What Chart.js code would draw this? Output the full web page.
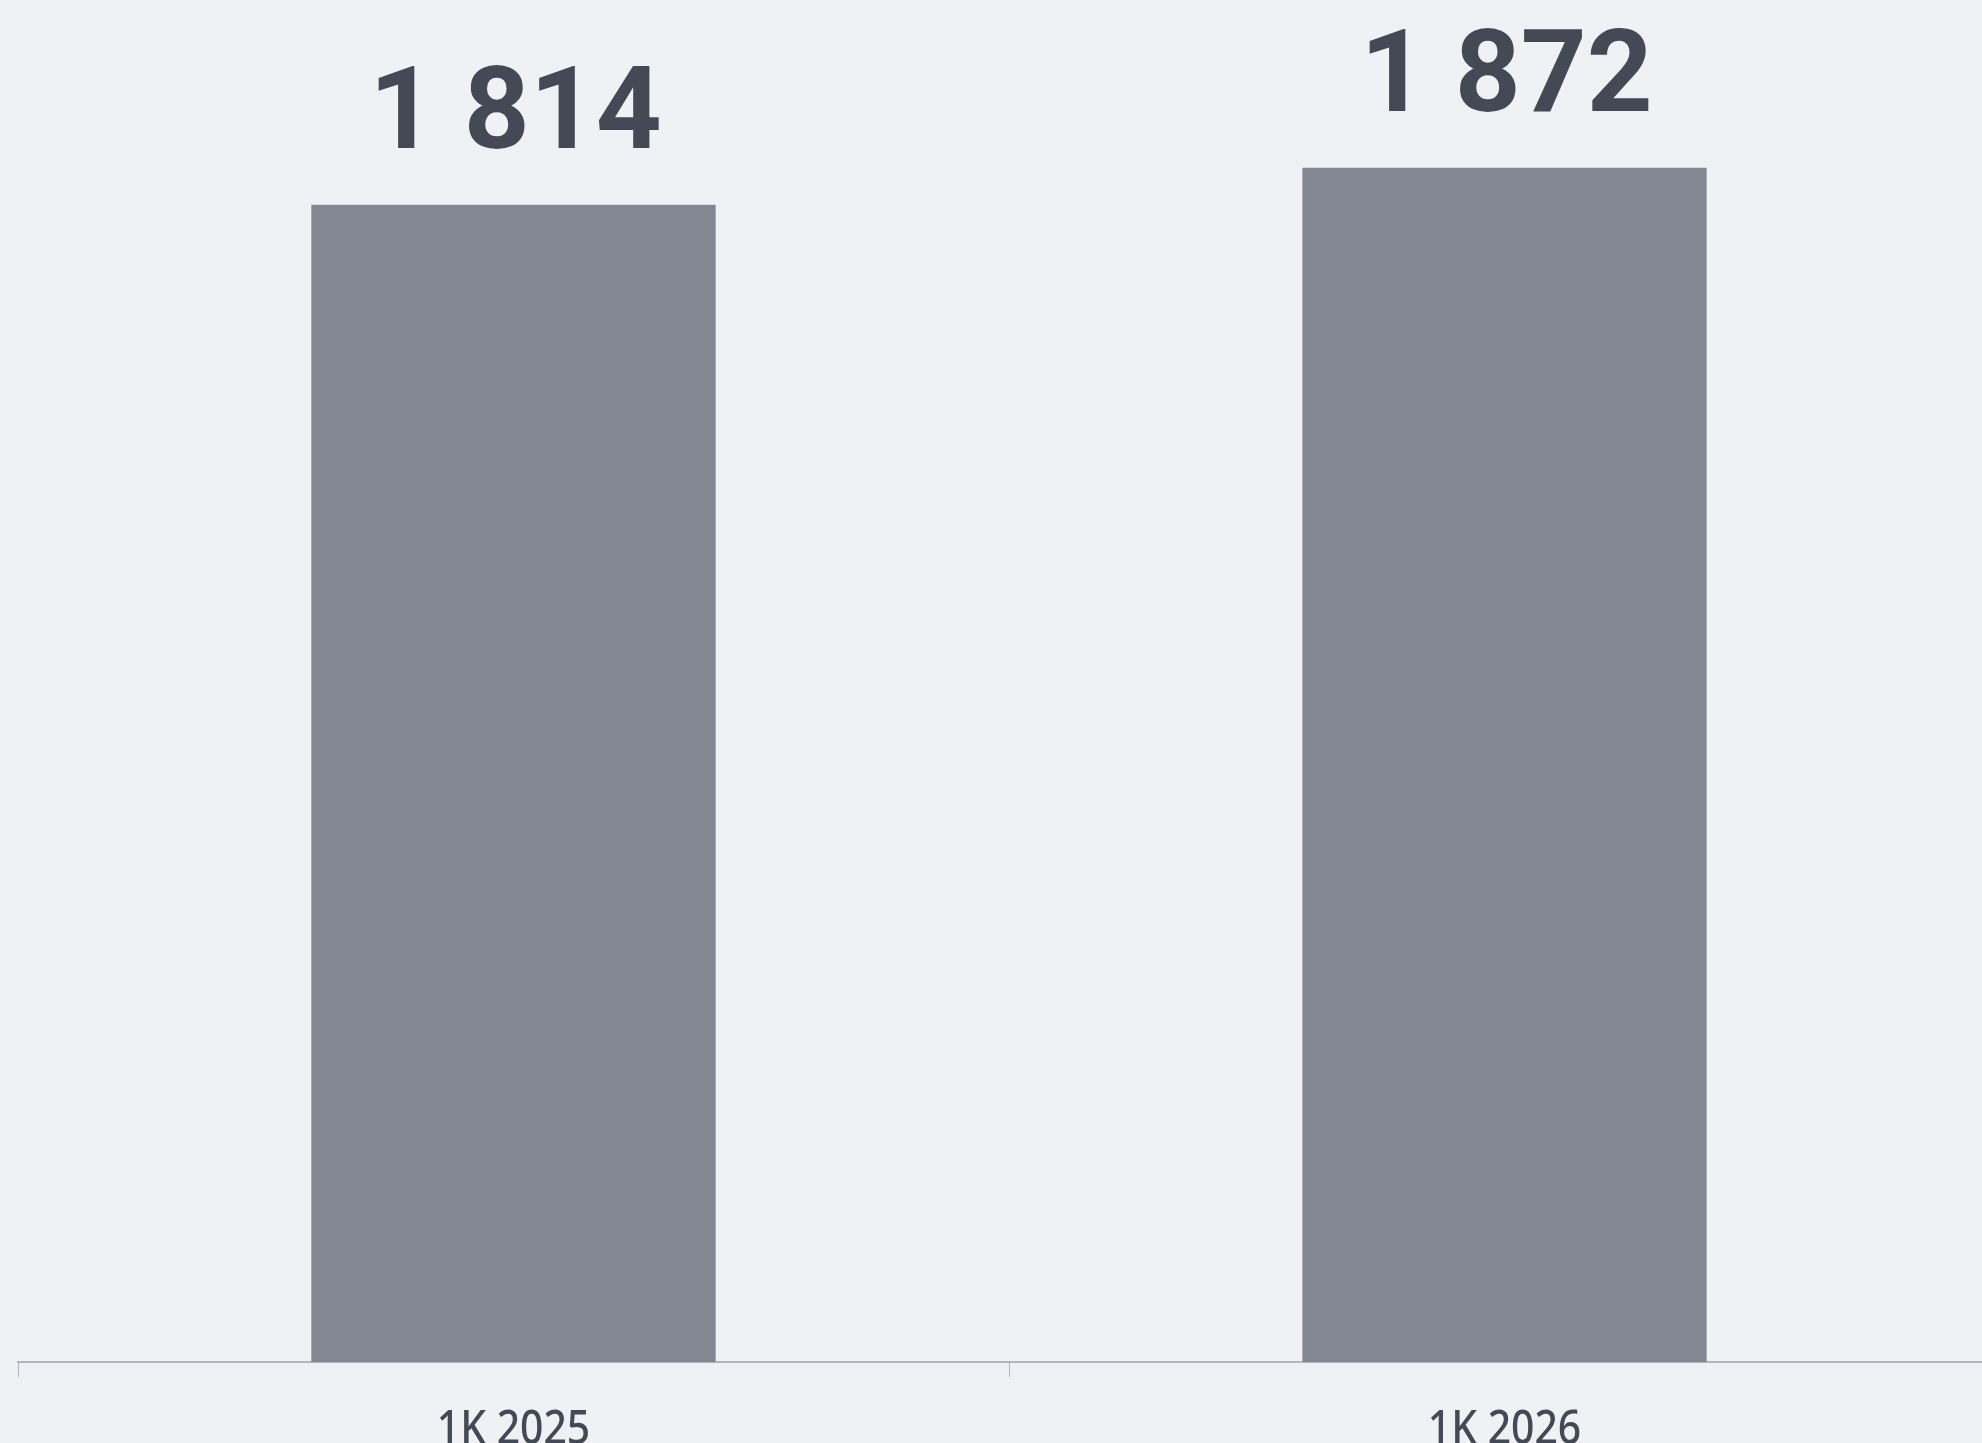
<!DOCTYPE html>
<html>
<head>
<meta charset="utf-8">
<script src="https://cdn.jsdelivr.net/npm/chart.js@4"></script>
<style>
  html, body { margin: 0; padding: 0; background: #f0f1f5; overflow: hidden; }
  #wrap { position: absolute; left: 0; top: 0; width: 2000px; height: 1443px; }
</style>
</head>
<body>
<div id="wrap"><canvas id="myChart"></canvas></div>
<script>
var labels1 = ['1K 2025', '1K 2026'];
var data1 = [1814, 1872];
var yMax = 2000;

// space as thousands separator, like "1 814"
function fmt(v) {
    return String(v).replace(/\B(?=(\d{3})+(?!\d))/g, ' ');
}

// value labels above the bars + slightly narrow category labels under the axis
var barText = {
    id: 'barText',
    afterDatasetsDraw: function (chart) {
        var ctx = chart.ctx;
        var meta = chart.getDatasetMeta(0);
        var xs = chart.scales.x;
        ctx.save();
        ctx.font = 'bold 115px Roboto, sans-serif';
        ctx.fillStyle = '#434955';
        ctx.textAlign = 'center';
        ctx.textBaseline = 'alphabetic';
        meta.data.forEach(function (bar, i) {
            ctx.fillText(fmt(data1[i]), bar.x + 2, bar.y - 57);
        });
        ctx.restore();

        ctx.save();
        ctx.font = '500 47px "Noto Sans", sans-serif';
        ctx.fillStyle = '#434955';
        ctx.textAlign = 'center';
        ctx.textBaseline = 'alphabetic';
        labels1.forEach(function (lab, i) {
            var x = xs.getPixelForTick(i);
            ctx.save();
            ctx.translate(x, xs.top + 82);
            ctx.scale(0.87, 1);
            ctx.fillText(lab, 0, 0);
            ctx.restore();
        });
        ctx.restore();
    }
};

var myChart = document.getElementById('myChart').getContext('2d');

var cutChart = new Chart(myChart, {
    type: 'bar',
    data: {
        labels: labels1,
        datasets: [{
            data: data1,
            backgroundColor: '#838792',
            borderWidth: 0,
            categoryPercentage: 1,
            barPercentage: 0.408
        }]
    },
    options: {
        responsive: true,
        maintainAspectRatio: false,
        animation: false,
        layout: { padding: { left: 18, top: 86, right: 0, bottom: 66 } },
        plugins: {
            legend: { display: false },
            tooltip: { enabled: false }
        },
        scales: {
            x: {
                grid: {
                    drawOnChartArea: false,
                    drawTicks: true,
                    tickLength: 15,
                    color: '#b3b6bd',
                    lineWidth: 1
                },
                border: { color: '#b3b6bd', width: 2 },
                ticks: { display: false }
            },
            y: {
                display: false,
                min: 0,
                max: yMax
            }
        }
    },
    plugins: [barText]
});
</script>
</body>
</html>
